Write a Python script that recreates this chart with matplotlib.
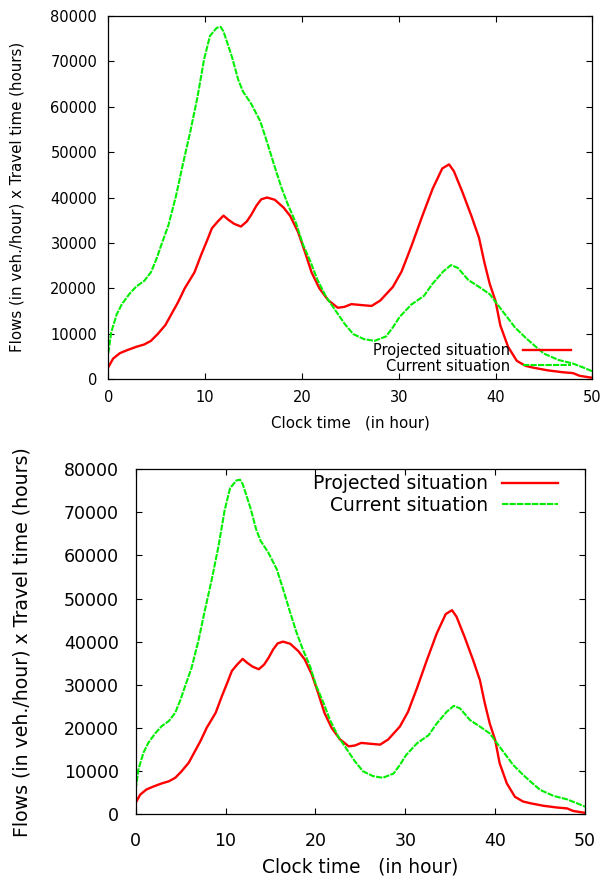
import matplotlib
matplotlib.use("Agg")
import matplotlib.pyplot as plt

plt.rcParams['font.family'] = ['DejaVu Sans']

# Clock time (hours) and flows x travel time (thousands of hours)
current_hours = [0, 0.3, 0.86, 1.4, 2.2, 2.9, 3.7, 4.4, 5.0, 5.5, 6.2, 7.0, 7.7, 8.45,
                 9.2, 9.9, 10.5, 11.2, 11.6, 11.9, 12.2, 12.8, 13.4, 13.9, 14.75,
                 15.7, 16.4, 17.2, 17.9, 18.6, 19.4, 20.1, 20.9, 21.6, 22.5, 23.5,
                 24.4, 25.3, 26.4, 27.5, 28.7, 29.4, 30.1, 31.3, 32.6, 33.5, 34.6,
                 35.4, 36.1, 37.2, 38.3, 39.4, 40.5, 42.0, 43.1, 43.9, 45.0, 46.5,
                 48.0, 49.1, 50.0]
current_k = [5.7, 10.3, 14.2, 16.5, 18.8, 20.4, 21.6, 23.5, 26.6, 29.7, 33.8, 40.4,
             47.3, 54.3, 62.0, 70.5, 75.6, 77.4, 77.6, 76.6, 74.7, 70.8, 66.1, 63.4,
             60.7, 56.8, 52.2, 46.7, 42.1, 38.2, 34.3, 29.7, 25.8, 21.9, 18.1, 15.0,
             12.2, 9.9, 8.8, 8.4, 9.4, 11.4, 13.7, 16.4, 18.3, 21.0, 23.7, 25.1,
             24.5, 21.8, 20.3, 18.7, 15.6, 11.4, 9.1, 7.6, 5.6, 4.2, 3.4, 2.5, 1.7]

projected_hours = [0, 0.5, 1.2, 2.0, 2.9, 3.7, 4.4, 5.1, 5.9, 6.6, 7.2, 7.9, 8.9, 9.6,
                   10.2, 10.7, 11.3, 11.9, 12.4, 13.0, 13.7, 14.3, 14.8, 15.3, 15.8,
                   16.4, 17.2, 18.1, 18.8, 19.6, 20.3, 21.0, 21.8, 22.7, 23.7, 24.4,
                   25.1, 26.1, 27.2, 28.1, 29.4, 30.3, 31.3, 32.4, 33.5, 34.5, 35.2,
                   35.7, 36.6, 37.55, 38.3, 38.85, 39.4, 40.0, 40.5, 41.3, 42.2, 43.1,
                   43.9, 45.4, 46.9, 48.0, 48.7, 49.9, 50.0]
projected_k = [2.6, 4.5, 5.7, 6.4, 7.1, 7.6, 8.4, 9.9, 11.9, 14.6, 16.9, 20.0, 23.5,
               27.4, 30.5, 33.2, 34.7, 36.0, 35.1, 34.2, 33.6, 34.7, 36.3, 38.2, 39.6,
               40.0, 39.5, 37.8, 35.9, 32.4, 28.1, 23.5, 20.0, 17.4, 15.7, 15.9, 16.5,
               16.3, 16.1, 17.3, 20.3, 23.7, 29.2, 35.7, 41.9, 46.4, 47.3, 45.8, 41.1,
               35.7, 31.1, 25.7, 21.0, 17.2, 11.8, 7.1, 4.0, 2.9, 2.5, 1.9, 1.5, 1.3,
               0.7, 0.3, 0.3]

x_ticks = [0, 10, 20, 30, 40, 50]
y_ticks = [0, 10000, 20000, 30000, 40000, 50000, 60000, 70000, 80000]
series_labels = ["Projected situation", "Current situation"]
x_label = "Clock time   (in hour)"
y_label = "Flows (in veh./hour) x Travel time (hours)"

projected = [v * 1000 for v in projected_k]
current = [v * 1000 for v in current_k]

W, H = 601, 881
fig = plt.figure(figsize=(W / 100, H / 100), dpi=100)


def px_axes(left, top, right, bottom):
    return fig.add_axes([left / W, 1 - bottom / H, (right - left) / W, (bottom - top) / H])


def draw_panel(ax, fs, leg_fs, pad_x, pad_y, legend_kw):
    ax.plot(projected_hours, projected, color='#ff0000', lw=1.7,
            label=series_labels[0], solid_joinstyle='round')
    ax.plot(current_hours, current, color='#00ee00', lw=1.5,
            linestyle=(0, (3.0, 0.6)), label=series_labels[1])
    ax.set_xlim(0, 50)
    ax.set_ylim(0, 80000)
    ax.set_xticks(x_ticks)
    ax.set_yticks(y_ticks)
    ax.tick_params(direction='in', length=4, width=0.8, top=True, right=True,
                   labelsize=fs)
    ax.tick_params(axis='x', pad=pad_x)
    ax.tick_params(axis='y', pad=pad_y)
    for s in ax.spines.values():
        s.set_linewidth(0.9)
    leg = ax.legend(frameon=False, markerfirst=False, fontsize=leg_fs,
                    borderpad=0, borderaxespad=0, **legend_kw)
    for t in leg.get_texts():
        t.set_ha('right')
    return leg


ax1 = px_axes(108.3, 16, 592.3, 379)
draw_panel(ax1, 10.5, 10.5, 8, 8,
           dict(loc='lower right', bbox_to_anchor=(0.956, 0.015),
                handlelength=3.3, handletextpad=0.85, labelspacing=0.05))
fig.text(350 / W, 1 - 423 / H, x_label, ha='center', va='center', fontsize=10.8)
fig.text(17 / W, 1 - 197 / H, y_label, ha='center', va='center', rotation=90,
         fontsize=10.8)

ax2 = px_axes(135.7, 469.3, 585, 814)
draw_panel(ax2, 12.5, 13.5, 13, 12,
           dict(loc='upper right', bbox_to_anchor=(0.940, 0.985),
                handlelength=3.0, handletextpad=0.75, labelspacing=0.12))
fig.text(360 / W, 1 - 867 / H, x_label, ha='center', va='center', fontsize=13.4)
fig.text(22 / W, 1 - 642 / H, y_label, ha='center', va='center', rotation=90,
         fontsize=13.6)

fig.savefig("out.png", dpi=100)
